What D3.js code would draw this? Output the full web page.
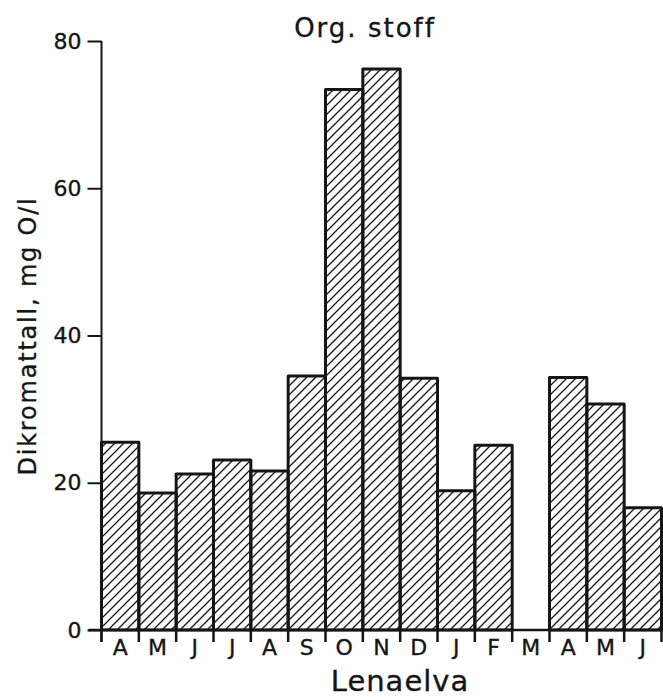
<!DOCTYPE html>
<html><head><meta charset="utf-8">
<script src="https://cdn.jsdelivr.net/npm/d3@7"></script>
<style>
html,body{margin:0;padding:0;background:#fff;}
svg text{font-family:"DejaVu Sans",sans-serif;fill:#151515;stroke:#151515;stroke-width:0.35px;}
</style></head>
<body><svg id="c" width="663" height="697"></svg>
<script>
const months = ["A","M","J","J","A","S","O","N","D","J","F","M","A","M","J"];
const values = [25.5, 18.6, 21.2, 23.1, 21.6, 34.5, 73.4, 76.2, 34.2, 18.9, 25.1, null, 34.3, 30.7, 16.6];
const yTicks = [0, 20, 40, 60, 80];
const title = "Org. stoff";
const xTitle = "Lenaelva";
const yTitle = "Dikromattall, mg O/l";

const svg = d3.select("#c");
const ink = "#151515";
const x0 = 101.5, x1 = 661.5, yb = 630, yt = 41;
const x = d3.scaleBand().domain(d3.range(months.length)).range([x0, x1]).padding(0);
const y = d3.scaleLinear().domain([0, 80]).range([yb, yt]);

// hatch pattern
const defs = svg.append("defs");
const w = 9;
const pat = defs.append("pattern").attr("id","hatch").attr("patternUnits","userSpaceOnUse")
  .attr("width", w).attr("height", w);
pat.append("path")
  .attr("d", `M-1,1 l2,-2 M0,${w} l${w},${-w} M${w-1},${w+1} l2,-2`)
  .attr("stroke", ink).attr("stroke-width", 1.3);

// bars
const data = months.map((m,i)=>({m, i, v: values[i]})).filter(d => d.v != null);
svg.append("g").selectAll("rect").data(data).join("rect")
  .attr("x", d => x(d.i))
  .attr("y", d => y(d.v))
  .attr("width", x.bandwidth())
  .attr("height", d => y(0) - y(d.v))
  .attr("fill", "url(#hatch)")
  .attr("stroke", ink).attr("stroke-width", 3)
  .attr("stroke-linejoin", "round");

// y axis
const yAxis = d3.axisLeft(y).tickValues(yTicks).tickSize(14).tickPadding(6).tickSizeOuter(0);
const gy = svg.append("g").attr("transform", `translate(${x0},0)`).call(yAxis);
gy.select(".domain").remove();
gy.selectAll(".tick line").attr("stroke", ink).attr("stroke-width", 2);
gy.selectAll(".tick text").style("font-size", "22px").attr("fill", ink);
svg.append("line").attr("x1", x0).attr("x2", x0).attr("y1", y(80)).attr("y2", yb + 12)
  .attr("stroke", ink).attr("stroke-width", 2);

// x axis baseline and ticks
svg.append("line").attr("x1", x0 - 13).attr("x2", x1).attr("y1", yb).attr("y2", yb)
  .attr("stroke", ink).attr("stroke-width", 2.5);
const bounds = d3.range(months.length + 1).map(i => i < months.length ? x(i) : x1);
svg.append("g").selectAll("line").data(bounds).join("line")
  .attr("x1", d => d).attr("x2", d => d).attr("y1", yb).attr("y2", yb + 12)
  .attr("stroke", ink).attr("stroke-width", 2.5);
svg.append("g").selectAll("text").data(months).join("text")
  .attr("x", (d,i) => x(i) + x.bandwidth()/2)
  .attr("y", 655)
  .attr("text-anchor","middle").style("font-size", "22px")
  .text(d => d);

// titles
svg.append("text").attr("x", 365).attr("y", 37).attr("text-anchor","middle")
  .style("font-size", "26px").attr("letter-spacing", 2).text(title);
svg.append("text").attr("x", 400).attr("y", 691).attr("text-anchor","middle")
  .style("font-size", "29px").attr("letter-spacing", 1).text(xTitle);
svg.append("text").attr("transform", "translate(36,336) rotate(-90)").attr("text-anchor","middle")
  .style("font-size", "24px").attr("letter-spacing", 1.8).text(yTitle);
</script></body></html>
